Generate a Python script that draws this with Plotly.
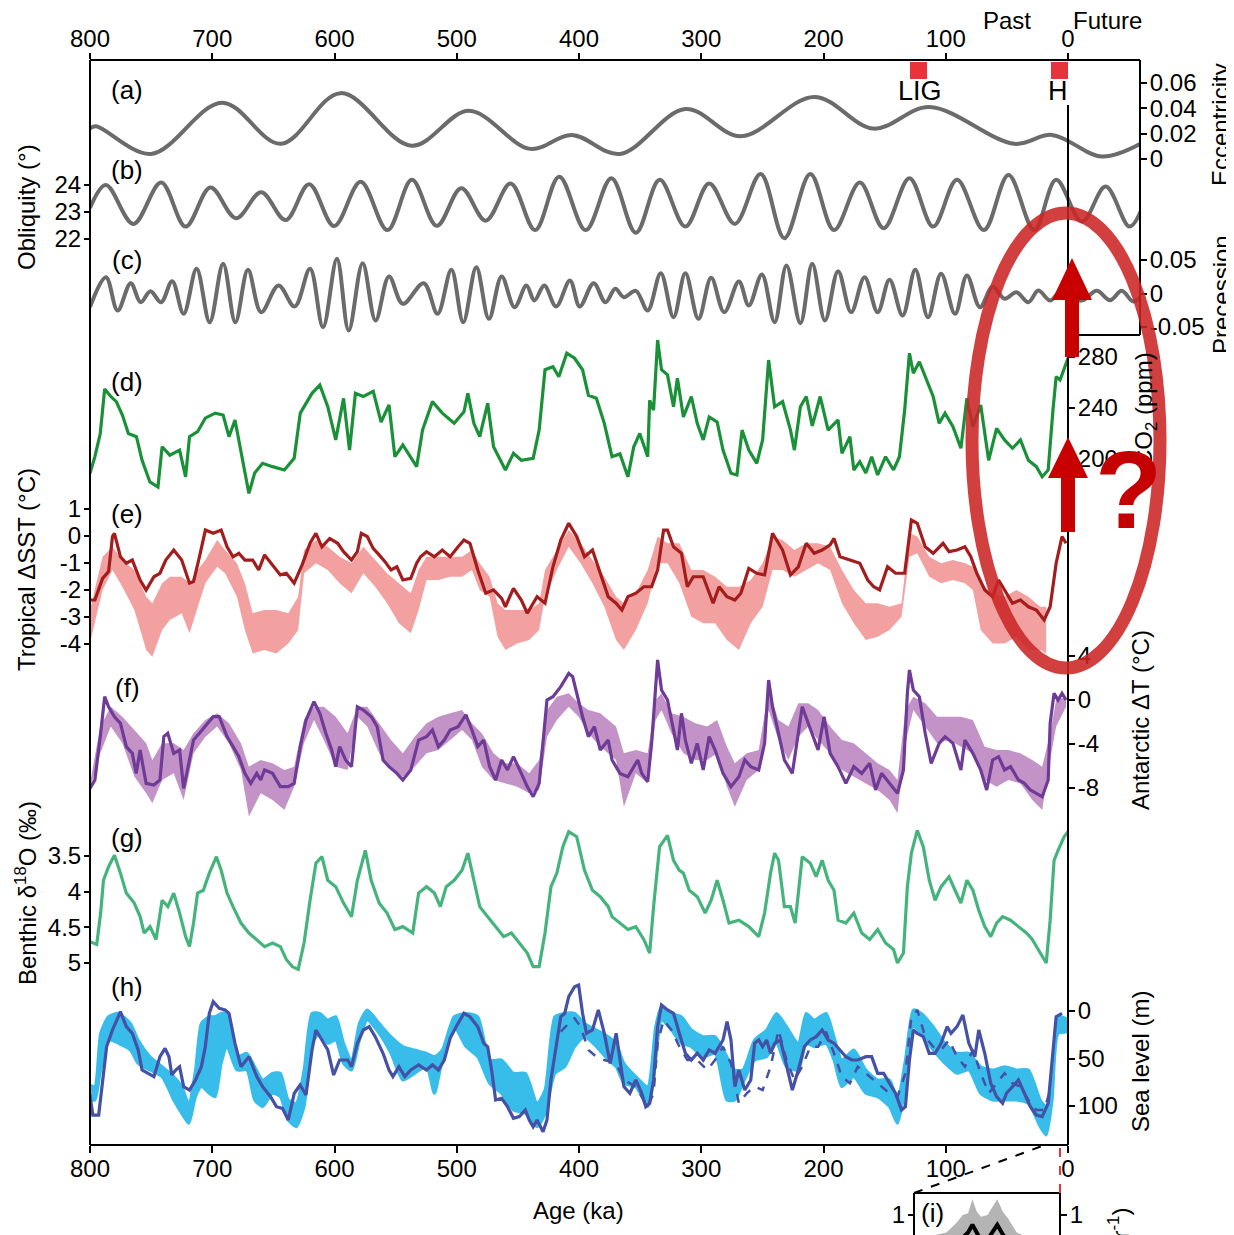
import plotly.graph_objects as go

# ---------------- data (age in ka) ----------------
ECC = [(800, 0.0242), (795, 0.0258), (750, 0.004), (692, 0.0445), (644, 0.012), (595, 0.052), (537, 0.0105),
       (490, 0.038), (440, 0.008), (406, 0.019), (366.5, 0.004), (313, 0.0395), (267.6, 0.018), (207.6, 0.049),
       (159, 0.024), (113.5, 0.041), (43.8, 0.012), (13, 0.019), (-27.6, 0.002), (-60, 0.0124)]

OBL = [(800, 23.15), (787, 24.00), (764.5, 22.56), (741.8, 24.09), (721.8, 22.46), (701.5, 23.91), (680.5, 22.77),
       (660, 23.73), (640, 22.70), (620.7, 24.03), (600.3, 22.48), (578.6, 24.12), (556.7, 22.33), (536.7, 24.19),
       (516.3, 22.49), (496.3, 23.88), (476.3, 22.68), (455.9, 24.06), (435.9, 22.33), (416.2, 24.31), (394.5, 22.33),
       (373.5, 24.25), (353.5, 22.23), (334, 24.19), (313, 22.46), (293.5, 24.06), (272.5, 22.56), (251.4, 24.41),
       (232, 22.03), (210.8, 24.41), (191.4, 22.33), (170.3, 24.09), (150.8, 22.40), (129.7, 24.25), (110.3, 22.46),
       (90.8, 24.19), (68.8, 22.33), (48.7, 24.37), (27.6, 22.33), (9.7, 24.19), (-11.4, 22.64), (-30.8, 23.94),
       (-50.3, 22.46), (-60, 23.07)]

PREC = [(800, -0.0204), (787, 0.0243), (777.4, -0.0254), (766.7, 0.0154), (758.6, -0.0130), (750.6, 0.0034),
        (741.8, -0.0130), (732.8, 0.0184), (723.4, -0.0303), (712.8, 0.0369), (702.1, -0.0428), (691.1, 0.0443),
        (681.1, -0.0428), (670.8, 0.0354), (660, -0.0279), (645.8, 0.0119), (632.6, -0.0194), (620, 0.0369),
        (609.4, -0.0503), (598, 0.0518), (588.4, -0.0552), (577, 0.0452), (566.4, -0.0403), (555.4, 0.0254),
        (544.1, -0.0154), (527, 0.0154), (515.7, -0.0303), (504.4, 0.0354), (494.7, -0.0428), (484, 0.0393),
        (473.7, -0.0378), (463.3, 0.0254), (452.7, -0.0204), (443, 0.0119), (436.5, -0.0104), (428.4, 0.0119),
        (418.7, -0.0194), (407.4, 0.0194), (399.4, -0.0194), (388, 0.0154), (378.4, -0.0130), (370.3, 0.0070),
        (363.3, -0.0055), (353.5, 0.004), (343.8, -0.0254), (333.1, 0.0303), (322.7, -0.0354), (313, 0.0303),
        (302.3, -0.0378), (291.9, 0.0234), (281.2, -0.0279), (269.2, 0.0179), (261.1, -0.0179), (250.4, 0.0284),
        (240, -0.0428), (230.3, 0.0418), (218.9, -0.0443), (209.2, 0.0443), (198.8, -0.0403), (188.1, 0.0333),
        (177.4, -0.0279), (166.4, 0.0243), (155.7, -0.0279), (146, 0.0204), (135.3, -0.0328), (124.9, 0.0354),
        (114.5, -0.0354), (103.8, 0.0294), (92.4, -0.0303), (82.7, 0.0269), (72, -0.0204), (61.6, 0.0104),
        (51.9, -0.0079), (42.2, 0.0019), (32.4, -0.0130), (24.3, 0.0045), (14.6, -0.0104), (6.5, 0.0019),
        (-4.9, -0.0094), (-12.3, -0.010), (-23.5, 0.004), (-34.4, -0.010), (-43.9, 0.004), (-53.4, -0.012),
        (-60, -0.004)]

CO2 = [(800, 188.8), (796, 201.8), (791.6, 220), (788, 255), (783, 249), (778.5, 245), (773.5, 234.5), (768.6, 220),
       (762, 217.5), (757.4, 199), (751, 182), (744.4, 178), (741, 209.6), (734.7, 203), (726.7, 207), (721.8, 186),
       (718.6, 217.5), (712, 221.4), (705.7, 232), (697.6, 236), (691.1, 234.5), (686.3, 217.5), (681.4, 230.6),
       (676.5, 207), (670, 173), (665.3, 189), (658.8, 196.6), (650.7, 194), (641, 191.4), (633, 200.6), (628, 236),
       (618.4, 251.5), (612, 258), (605.5, 241), (599, 215), (592.6, 247.6), (587.7, 207), (582.9, 251.5),
       (576.4, 249), (568.3, 253), (561.9, 229), (555.4, 242.4), (550.6, 201.8), (544.1, 211), (532.8, 194),
       (528, 222.7), (519.9, 245), (511.8, 236), (502.1, 228), (494.1, 237), (490.9, 251.5), (486, 228),
       (481.2, 217.5), (474.7, 243.7), (469.9, 209.6), (460.2, 191.4), (453.6, 204.4), (447.2, 199), (437.5, 200.6),
       (432.6, 222.7), (427.8, 270), (421.3, 272.4), (416.5, 264.5), (410, 283), (403.6, 279), (397.1, 270),
       (392.3, 250), (385.8, 247.6), (379.3, 228), (373, 201.8), (366.5, 204), (360, 186), (355.2, 209.6),
       (350.3, 220), (343.8, 201.8), (342.2, 246), (339, 238.4), (335.7, 293.3), (332.5, 270), (327.6, 266),
       (322.7, 241), (319.5, 263.3), (314.6, 233), (308.1, 249), (303.3, 228), (298.4, 215), (293.5, 233),
       (287, 229), (282.2, 207), (275.7, 188.8), (270.8, 187.5), (266.6, 222.7), (261.1, 207), (254.6, 196.6),
       (249.8, 215), (244.9, 277.6), (240, 241), (233.5, 245), (227, 222.7), (223.8, 207), (218.9, 241),
       (214.1, 249), (209.2, 226), (202.7, 249), (196.2, 222.7), (188.1, 230.6), (184.9, 204.4), (178.4, 217.5),
       (175.2, 191.4), (170.3, 197.9), (165.4, 189), (160.6, 201.8), (155.7, 187.5), (149.2, 201.8), (142.7, 191.4),
       (137.9, 201.8), (133.6, 238.4), (129.7, 283), (126.5, 267.2), (121.6, 276.3), (116.8, 264.5), (110.3, 249),
       (105.4, 228), (100.6, 236), (94.1, 225.4), (87.6, 208.4), (82.7, 247.6), (77.8, 225.4), (71.4, 242.4),
       (64.9, 199), (58.4, 224), (51.9, 215), (45.4, 208.4), (38.9, 215), (32.4, 199), (25.9, 194), (21.1, 186),
       (16.2, 191.4), (12.3, 238.4), (9.7, 264.5), (6.5, 262), (0, 279)]

SST = [(800, -2.37), (796, -2.37), (789.7, -1.57), (784.8, -1.32), (781.6, -0.02), (780, 0.10), (775.1, -0.77),
       (770.3, -1.01), (765.4, -0.89), (759, -1.63), (754.1, -2.00), (747.7, -1.51), (742.8, -1.38), (738, -0.89),
       (731.5, -0.52), (725, -0.89), (718.6, -1.75), (715.3, -1.69), (710.5, -0.77), (705.6, 0.22), (699.2, 0.10),
       (692.7, 0.22), (687.9, -0.40), (683, -0.77), (678.2, -0.64), (673.3, -0.89), (666.9, -0.89), (662, -1.26),
       (657.2, -0.70), (650.7, -1.07), (644.3, -1.44), (639.4, -1.38), (633, -1.75), (626.5, -1.07), (620, -0.27),
       (615.2, 0.10), (610.3, -0.40), (603.9, -0.09), (597.4, -0.27), (592.6, -0.58), (586.1, -0.89), (581.3, -0.58),
       (578.1, 0.10), (573.2, -0.02), (568.4, -0.46), (563.5, -0.70), (558.7, -0.95), (553.8, -1.26), (549, -1.14),
       (544.1, -1.63), (537.6, -1.57), (532.8, -1.01), (529.6, -0.77), (524.7, -0.58), (518.3, -0.77),
       (511.8, -0.52), (505.4, -0.77), (498.9, -0.40), (494.1, -0.15), (489.2, -0.27), (482.8, -1.26),
       (476.3, -2.12), (469.9, -2.00), (463.3, -2.31), (460.2, -2.62), (453.6, -1.94), (447.2, -2.37),
       (442.3, -2.86), (434.3, -2.25), (427.8, -2.49), (421.3, -1.14), (414.9, -0.15), (408.4, 0.47),
       (401.9, -0.02), (395.5, -0.77), (389, -0.52), (382.6, -1.38), (376.1, -2.25), (369.7, -2.49), (364.9, -2.74),
       (360, -2.25), (353.5, -2.12), (347, -1.88), (340.6, -1.88), (335.7, -1.26), (330.8, 0.22), (327.6, 0.22),
       (322.7, -0.40), (316.2, -0.64), (311.4, -1.88), (306.5, -1.51), (298.4, -1.51), (290.3, -2.49),
       (285.4, -1.88), (279, -2.25), (272.5, -2.37), (267.6, -2.12), (261.1, -1.20), (254.6, -1.38), (248.2, -1.44),
       (241.7, 0.10), (236.8, -0.27), (233.5, -0.52), (227, -1.44), (220.6, -1.14), (214.1, -0.27), (207.6, -0.64),
       (201.1, -0.52), (194.6, -0.33), (191.4, -0.09), (186.5, -0.77), (178.4, -0.89), (170.3, -1.01),
       (163.8, -1.63), (158.9, -1.88), (154.1, -2.00), (147.6, -1.14), (141.1, -1.38), (133.6, -1.38), (128.1, 0.59),
       (123.3, 0.47), (116.8, -0.40), (110.3, -0.64), (102.2, -0.27), (97.3, -0.58), (90.8, -0.52), (84.3, -0.40),
       (79.5, -0.77), (74.6, -1.38), (68.1, -2.00), (61.6, -2.25), (56.8, -1.63), (51.9, -2.00), (45.4, -2.49),
       (38.9, -2.37), (32.4, -2.62), (25.9, -2.74), (19.5, -3.11), (14.6, -2.62), (9.7, -1.01), (4.9, -0.02),
       (1.6, -0.27)]

SST_BAND_AGE = [800, 789.7, 781.6, 773.5, 763.7, 754, 749, 741, 734.7, 725, 718.6, 712, 705.7, 696, 689.5, 679.8,
                673.3, 666.9, 657.2, 647.5, 637.8, 629.7, 624.9, 615.2, 605.5, 595.8, 586.1, 576.4, 566.7, 557, 547.3,
                537.6, 531.2, 524.7, 515, 505.4, 495.7, 487.6, 481.2, 473.1, 466.6, 460.2, 450.5, 440.8, 432.6, 427.8,
                418.1, 408.4, 398.7, 389, 379.3, 369.7, 363.3, 353.5, 343.8, 335.7, 327.6, 317.9, 308.1, 298.4, 288.7,
                279, 269.2, 259.5, 249.8, 241.7, 233.5, 223.8, 214.1, 204.4, 194.6, 184.9, 175.2, 165.4, 155.7, 146,
                136.2, 129.7, 123.3, 113.5, 103.8, 94.1, 84.3, 77.8, 71.4, 61.6, 51.9, 42.2, 32.4, 22.7, 17.8]
SST_BAND_HI = [-2.74, -0.77, -0.40, -0.89, -1.26, -2.25, -2.49, -1.75, -1.51, -1.51,
               -1.75, -1.26, -0.89, -0.15, -0.52, -1.01, -1.75, -2.86, -2.74, -2.74,
               -2.86, -2.25, -0.52, -0.15, -0.40, -0.77, -1.01, -0.40, -0.89, -1.38,
               -1.75, -2.12, -1.26, -0.77, -0.77, -0.77, -0.77, -0.52, -1.01, -1.51,
               -2.49, -2.74, -2.74, -2.74, -2.49, -1.26, -0.52, 0.22, -0.27, -0.89,
               -1.51, -2.25, -2.49, -2.12, -1.26, -0.02, -0.27, -0.27, -1.26, -1.26,
               -1.51, -1.88, -1.88, -1.63, -1.01, -0.02, -0.15, -0.52, -0.27, -0.27,
               -0.40, -1.26, -2.00, -2.49, -2.49, -2.62, -2.49, 0.10, -0.02, -0.77,
               -1.01, -0.89, -1.01, -1.14, -1.75, -2.12, -2.25, -2.00, -2.25, -2.62,
               -2.62]
SST_BAND_LO = [-3.96, -2.00, -1.26, -1.88, -2.74, -4.22, -4.47, -3.48, -3.11, -2.86,
               -3.60, -2.62, -1.75, -1.14, -1.38, -2.25, -3.48, -4.35, -4.22, -4.35,
               -3.98, -3.48, -1.38, -1.01, -1.26, -1.75, -2.12, -1.38, -1.88, -2.49,
               -3.23, -3.60, -2.74, -1.63, -1.63, -1.51, -1.51, -1.26, -2.00, -2.25,
               -3.73, -4.22, -3.98, -3.85, -3.48, -2.25, -1.26, -0.40, -1.01, -1.75,
               -2.62, -3.85, -4.22, -3.48, -2.49, -1.01, -1.01, -1.75, -2.99, -3.23,
               -3.23, -3.85, -4.22, -3.23, -2.62, -1.26, -1.26, -1.51, -1.26, -1.01,
               -1.26, -2.49, -3.23, -3.85, -3.73, -3.48, -2.99, -0.77, -0.64, -1.51,
               -1.75, -1.63, -1.75, -2.00, -3.48, -3.98, -3.98, -3.73, -4.22, -4.22,
               -4.35]

ANT = [(800, -8.03), (796, -7.27), (791.6, -3.33), (788, 0.30), (784.8, -0.61), (780, -1.52), (775.1, -2.12),
       (770.3, -4.24), (765.4, -4.85), (762.2, -6.67), (759, -4.55), (754.1, -7.58), (747.7, -7.73), (742.8, -7.27),
       (739.6, -3.33), (736.4, -3.03), (731.5, -4.85), (726.7, -4.55), (723.4, -8.03), (718.6, -5.45), (715.3, -3.64),
       (710.5, -3.03), (705.6, -2.42), (699.2, -1.52), (694.3, -1.52), (687.9, -3.33), (683, -4.24), (678.2, -5.15),
       (673.3, -6.67), (668.5, -7.58), (663.6, -6.67), (660.4, -7.27), (657.2, -6.36), (650.7, -6.67), (644.3, -7.88),
       (637.8, -7.88), (633, -7.58), (628, -4.24), (623.3, -1.82), (616.8, -0.15), (612, -1.21), (607.1, -3.03),
       (602.3, -4.55), (599, -6.06), (595.8, -4.24), (590.9, -5.45), (586.1, -6.06), (581.3, -0.61), (576.4, -0.91),
       (569.9, -1.52), (565.1, -2.42), (560.3, -5.45), (555.4, -6.06), (549, -6.67), (544.1, -7.27), (537.6, -6.36),
       (531.2, -3.64), (524.7, -3.33), (519.9, -2.73), (515, -4.24), (510.2, -3.64), (505.4, -2.73), (498.9, -2.42),
       (492.5, -1.36), (487.6, -2.73), (482.8, -4.24), (477.9, -3.64), (473.1, -6.06), (468.2, -7.27), (463.3, -5.45),
       (458.5, -6.36), (453.6, -5.15), (447.2, -6.67), (442.3, -7.88), (437.5, -8.79), (432.6, -7.58), (426.2, 0.0),
       (421.3, 0.30), (414.9, 1.21), (408.4, 2.42), (405.2, 2.12), (401.9, 0.61), (397.1, -1.52), (392.3, -3.33),
       (387.4, -2.42), (382.6, -4.55), (376.1, -3.64), (373, -5.45), (366.5, -6.67), (360, -6.97), (355.2, -6.06),
       (351.9, -5.45), (348.7, -6.67), (343.8, -7.42), (340.6, -3.94), (337.3, 0.61), (335.7, 3.64), (332.5, 0.91),
       (327.6, 0.0), (322.7, -2.73), (319.5, -4.55), (316.2, -1.21), (313, -3.64), (308.1, -5.76), (303.3, -3.94),
       (298.4, -6.36), (293.5, -3.33), (288.7, -4.55), (282.2, -6.67), (275.7, -7.88), (269.2, -6.97), (264.4, -5.45),
       (259.5, -6.06), (253, -6.36), (248.2, -3.94), (244.9, 1.82), (241.7, -0.61), (236.8, -3.03), (232, -5.45),
       (225.5, -6.67), (220.6, -2.73), (217.4, -0.61), (212.5, -2.12), (207.6, -3.64), (204.4, -4.55), (199.5, -1.52),
       (194.6, -4.85), (188.1, -6.06), (181.7, -7.58), (175.2, -6.06), (168.7, -6.67), (162.2, -5.76), (157.4, -8.18),
       (152.5, -6.67), (146, -7.58), (139.5, -8.48), (134.6, -6.36), (131.4, 0.61), (129.7, 2.73), (126.5, 0.91),
       (121.6, 0.30), (116.8, -3.03), (111.9, -5.76), (105.4, -3.94), (100.6, -3.33), (94.1, -3.94), (87.6, -6.36),
       (84.3, -3.64), (77.8, -4.85), (71.4, -6.36), (66.5, -8.18), (61.6, -5.45), (56.8, -5.15), (51.9, -6.36),
       (47, -6.06), (40.5, -7.27), (35.7, -7.58), (30.8, -8.18), (25.9, -8.48), (21.1, -8.79), (16.2, -7.27),
       (14.6, -2.12), (11.4, 0.61), (8.1, 0.0), (4.9, 0.61), (1.6, 0.0)]

# (age, upper, lower)
ANT_BAND = [(800, -7.58, -8.03), (791.6, -2.42, -4.85), (783, -0.61, -2.42), (773.5, -1.52, -3.94),
            (763.7, -2.73, -6.97), (754, -3.94, -8.48), (749, -5.45, -9.39), (741, -3.94, -7.27), (731.5, -3.94, -6.67),
            (723.4, -4.55, -9.09), (715.3, -3.03, -4.85), (705.6, -1.82, -3.33), (696, -1.21, -2.42),
            (686.3, -2.12, -3.94), (676.5, -3.94, -6.36), (670, -6.06, -10.6), (660.4, -5.45, -8.48),
            (650.7, -5.76, -9.09), (641, -6.36, -10.0), (633, -6.06, -7.88), (625, -1.82, -3.94), (616.8, -0.61, -1.82),
            (608.7, -0.61, -3.64), (599, -1.52, -6.06), (589.3, -3.03, -6.36), (581.3, -0.61, -1.52),
            (573.2, -0.61, -2.42), (563.5, -2.12, -4.85), (553.8, -3.64, -6.36), (544.1, -4.85, -6.97),
            (534.4, -3.33, -6.06), (524.7, -2.12, -4.85), (515, -1.52, -4.55), (505.4, -1.21, -3.64),
            (495.7, -0.91, -2.73), (487.6, -2.12, -3.64), (479.5, -3.03, -6.06), (469.9, -4.85, -7.27),
            (460.2, -5.76, -7.58), (450.5, -5.76, -7.88), (440.8, -6.67, -8.48), (432.6, -5.45, -8.18),
            (426.2, -0.91, -3.33), (418.1, 0.30, -1.82), (408.4, 0.61, -0.61), (400.3, -0.30, -1.52),
            (392.3, -0.91, -3.03), (382.6, -1.21, -4.24), (369.7, -2.42, -5.45), (363.3, -4.85, -9.70),
            (353.5, -4.55, -6.67), (343.8, -4.85, -7.58), (337.3, 0.0, -1.82), (332.5, 0.61, -0.91),
            (324.4, -1.21, -3.03), (314.6, -1.52, -4.85), (304.9, -2.12, -5.45), (295.2, -2.42, -5.45),
            (287, -1.82, -4.85), (279, -4.24, -7.88), (272.5, -5.76, -9.70), (262.8, -4.85, -7.27), (253, -4.55, -6.36),
            (244.9, 0.91, -0.91), (236.8, -1.82, -3.64), (228.7, -2.42, -5.45), (220.6, -0.30, -3.33),
            (212.5, -0.30, -2.42), (204.4, -0.91, -3.64), (194.6, -2.42, -4.85), (184.9, -3.64, -6.36),
            (175.2, -3.94, -6.97), (165.4, -4.85, -7.58), (155.7, -5.76, -8.18), (146, -6.36, -9.09),
            (139.5, -7.27, -10.3), (133, -0.91, -3.94), (126.5, 0.30, -0.91), (116.8, -0.30, -2.42),
            (107.1, -1.52, -3.94), (97.3, -1.52, -3.64), (87.6, -1.52, -4.24), (77.8, -1.82, -4.85),
            (68.1, -4.24, -7.27), (58.4, -4.55, -7.88), (48.7, -4.55, -7.27), (38.9, -4.85, -7.58),
            (29.2, -5.45, -9.09), (21.1, -6.06, -10.0), (14.6, -3.03, -5.45), (9.7, 0.0, -2.42), (1.6, 0.30, -0.61)]

D18O = [(800, 4.70), (794.5, 4.74), (791.3, 4.30), (789, 3.84), (784.8, 3.65), (780, 3.49), (775.1, 3.74),
        (770.3, 4.02), (763.8, 4.16), (759, 4.35), (755.7, 4.58), (750.9, 4.49), (746, 4.67), (741, 4.12),
        (736.3, 4.21), (731.5, 4.02), (726.7, 4.30), (721.8, 4.63), (718.6, 4.77), (715.3, 4.44), (712, 4.02),
        (707.3, 3.98), (702.4, 3.74), (696.6, 3.51), (692.7, 3.70), (687.9, 4.02), (683, 4.21), (676.5, 4.44),
        (670, 4.58), (663.6, 4.67), (657.2, 4.77), (650.7, 4.72), (644.3, 4.77), (639.4, 4.95), (634.6, 5.05),
        (629.7, 5.09), (624.9, 4.72), (620, 4.12), (615.2, 3.60), (610.3, 3.51), (605.5, 3.84), (599, 3.93),
        (592.6, 4.16), (586.1, 4.35), (581.3, 3.84), (574.8, 3.42), (570, 3.84), (563.5, 4.16), (557, 4.30),
        (550.6, 4.53), (544.1, 4.49), (536, 4.58), (531.2, 4.02), (524.7, 3.93), (518.3, 4.02), (513.4, 4.21),
        (508.6, 3.93), (502.1, 3.84), (495.7, 3.70), (490.9, 3.46), (486, 3.84), (481.2, 4.21), (474.7, 4.35),
        (468.2, 4.49), (461.7, 4.63), (455.3, 4.58), (448.8, 4.72), (442.3, 4.86), (437.5, 5.05), (432.6, 5.05),
        (427.8, 4.58), (422.9, 3.93), (418.1, 3.74), (413.2, 3.37), (408.4, 3.16), (401.9, 3.23), (395.5, 3.70),
        (389, 3.98), (382.6, 4.07), (376.1, 4.21), (373, 4.35), (366.5, 4.44), (360, 4.53), (353.5, 4.49),
        (347, 4.67), (342.2, 4.86), (339, 4.21), (334.1, 3.37), (327.6, 3.21), (322.7, 3.56), (317.9, 3.70),
        (314.6, 3.74), (309.8, 3.98), (303.3, 4.07), (296.8, 4.30), (291.9, 4.12), (287, 3.84), (282.2, 4.12),
        (277.3, 4.44), (269.2, 4.40), (261.1, 4.49), (253, 4.63), (248.2, 4.30), (243.3, 3.74), (240, 3.46),
        (236.8, 3.56), (232, 4.21), (227.1, 4.21), (223.2, 4.44), (217.4, 3.51), (210.8, 3.60), (206, 3.79),
        (201.1, 3.56), (196.2, 3.84), (191.4, 3.98), (188.1, 4.40), (181.7, 4.44), (175.2, 4.30), (168.7, 4.58),
        (162.2, 4.67), (155.7, 4.53), (149.2, 4.72), (142.7, 4.81), (139.5, 5.00), (134.6, 4.86), (131.4, 3.93),
        (128.1, 3.46), (123.3, 3.14), (118.4, 3.37), (113.5, 3.84), (108.7, 4.12), (103.8, 3.93), (97.3, 3.79),
        (92.4, 3.98), (87.6, 4.16), (82.7, 3.84), (77.8, 3.98), (73, 4.26), (68.1, 4.49), (63.2, 4.63), (58.4, 4.44),
        (53.5, 4.35), (47, 4.40), (40.5, 4.49), (34, 4.58), (29.2, 4.67), (24.3, 4.81), (21.1, 4.91), (17.8, 5.00),
        (14.6, 4.40), (11.4, 3.56), (8.1, 3.42), (3.2, 3.23), (0, 3.16)]

SL = [(800, 88.4), (797.7, 109.5), (792.9, 109.5), (789.7, 76.1), (786.4, 37.6), (781.6, 20), (776.7, 6.0),
      (775.1, 0.7), (770.3, 16.5), (765.4, 23.5), (760.6, 41), (757.4, 62.1), (752.5, 65.6), (747.7, 69.1),
      (742.8, 48.1), (738.6, 39.3), (735.4, 48.1), (733.1, 67.4), (729.9, 62.1), (726.7, 58.6), (723.4, 79.6),
      (718.6, 83.2), (713.7, 72.6), (708.9, 58.6), (705.7, 37.6), (702.4, 2.4), (699.2, -9.8), (694.3, -2.8),
      (689.5, -1.1), (686.3, 2.4), (681.4, 34), (676.5, 58.6), (670, 48.1), (663.6, 69.1), (658.8, 79.6),
      (652.3, 90.2), (647.5, 100.7), (642.6, 102.5), (637.8, 114.7), (632.9, 86.6), (628.1, 77.9), (623.3, 88.4),
      (618.4, 41), (615.2, 20), (610.3, 30.5), (605.5, 41), (600.7, 67.4), (595.8, 51.6), (589.3, 51.6),
      (586.1, 58.6), (581.3, 34), (576.4, 20), (571.6, 16.5), (566.7, 27), (560.3, 44.5), (555.4, 62.1),
      (552.2, 69.1), (547.3, 58.6), (542.5, 69.1), (537.6, 62.1), (531.2, 56.8), (524.7, 62.1), (519.9, 56.8),
      (515, 62.1), (510.2, 51.6), (505.4, 28.8), (500.5, 16.5), (494.1, 2.4), (489.2, 6.0), (482.8, 16.5),
      (477.9, 34), (474.7, 37.6), (471.5, 62.1), (468.2, 93.7), (463.3, 91.9), (458.5, 100.7), (453.6, 113),
      (448.8, 111.2), (443.9, 104.2), (440.7, 114.7), (437.5, 121.8), (434.3, 114.7), (429.4, 127), (426.2, 114.7),
      (423, 72.6), (418.1, 34), (414.9, 6.0), (411.7, 2.4), (408.4, -15.1), (403.6, -25.6), (400.3, -27.4),
      (397.1, 2.4), (393.9, 23.5), (389, 20), (384.2, -1.1), (379.3, 23.5), (374.5, 55.1), (369.6, 23.5),
      (366.5, 51.6), (363.3, 79.6), (358.4, 86.6), (353.5, 72.6), (348.7, 86.6), (345.4, 100.7), (342.2, 97.2),
      (339, 72.6), (335.7, 16.5), (332.5, -6.3), (327.6, -1.1), (322.7, 2.4), (317.9, 23.5), (313, 44.5),
      (308.1, 51.6), (303.3, 44.5), (298.4, 51.6), (293.5, 41), (288.7, 44.5), (282.2, 30.5), (278.9, 11.2),
      (275.7, 30.5), (272.5, 79.6), (269.2, 62.1), (264.4, 83.2), (259.5, 72.6), (256.3, 34), (253, 30.5),
      (249.8, 37.6), (246.5, 30.5), (243.3, 44.5), (240, 34), (235.2, 30.5), (230.3, 58.6), (225.5, 83.2),
      (220.6, 62.1), (215.7, 37.6), (210.8, 30.5), (206, 27), (201.1, 20), (196.2, 30.5), (191.4, 34),
      (186.5, 41), (181.7, 48.1), (176.8, 51.6), (171.9, 51.6), (165.4, 48.1), (160.6, 48.1), (155.7, 65.6),
      (150.8, 65.6), (146, 76.1), (141.1, 86.6), (136.2, 104.2), (133, 100.7), (129.7, 51.6), (126.5, 20),
      (123.3, 23.5), (118.4, 27), (113.5, 44.5), (108.7, 44.5), (103.8, 34), (98.9, 16.5), (95.7, 23.5),
      (90.8, 16.5), (86, 4.2), (81.1, 34), (76.2, 48.1), (73, 20), (68.1, 44.5), (63.2, 76.1), (58.4, 90.2),
      (53.5, 97.2), (50.3, 86.6), (45.4, 79.6), (40.5, 72.6), (35.7, 86.6), (30.8, 100.7), (25.9, 109.5),
      (21.1, 111.2), (16.2, 97.2), (13, 51.6), (9.7, 6.0), (4.9, 2.4)]

SL_DASHED = [(414.9, 21.8), (408.4, 13), (403.6, 7.7), (398.7, 16.5), (392.3, 41), (385.8, 48.1), (379.3, 51.6),
             (369.6, 55.1), (363.3, 72.6), (353.5, 79.6), (343.8, 100.7), (339, 86.6), (335.7, 34), (330.8, 9.5),
             (324.4, 20), (317.9, 37.6), (311.4, 51.6), (303.3, 51.6), (295.2, 62.1), (288.7, 51.6), (282.2, 37.6),
             (275.7, 55.1), (269.2, 97.2), (262.8, 86.6), (256.3, 79.6), (249.8, 83.2), (243.3, 58.6), (236.8, 20),
             (230.3, 51.6), (223.8, 72.6), (217.4, 58.6), (210.8, 37.6), (204.4, 37.6), (197.9, 21.8), (191.4, 44.5),
             (185, 69.1), (178.4, 76.1), (172, 58.6), (165.4, 65.6), (159, 72.6), (152.4, 79.6), (146, 86.6),
             (139.5, 90.2), (133, 65.6), (128.1, 6.0), (123.3, -1.1), (116.8, 27), (110.3, 37.6), (103.8, 41),
             (97.3, 30.5), (90.8, 48.1), (84.3, 58.6), (77.8, 41), (71.4, 65.6), (64.9, 86.6), (58.4, 76.1),
             (51.9, 65.6), (45.4, 76.1), (38.9, 79.6), (32.4, 93.7), (25.9, 104.2), (19.5, 104.2), (14.6, 83.2)]

# (age, shallow edge, deep edge)
SL_BAND = [(800, 77.9, 93.7), (796, 79.6, 93.7), (791.3, 23.5, 62.1), (784.8, 6.0, 30.5), (776.7, 2.5, 34.0),
           (767, 13.0, 41.1), (760.6, 30.5, 55.1), (750.9, 48.1, 62.1), (741, 58.6, 69.1), (731.5, 69.1, 93.7),
           (725, 79.6, 107.7), (719.2, 97.2, 118.2), (713.7, 62.1, 90.2), (708.9, 13.0, 79.6), (702.4, 6.0, 86.7),
           (697.6, 6.0, 90.2), (692.7, 2.5, 55.1), (687.9, 2.5, 37.5), (679.8, 48.1, 62.1), (671.7, 44.6, 62.1),
           (665.3, 58.6, 93.7), (658.8, 72.6, 100.7), (650.7, 65.6, 86.7), (644.3, 65.6, 90.2), (637.8, 93.7, 114.7),
           (631.3, 97.2, 121.8), (624.9, 62.1, 100.7), (618.4, 2.5, 34.0), (612, 2.5, 23.5), (605.5, 9.5, 34.0),
           (599, 6.0, 30.5), (592.6, 34.0, 55.1), (586.1, 51.6, 62.1), (579.6, 13.0, 30.5), (573.2, -1.1, 9.5),
           (563.5, 13.0, 23.5), (553.8, 27.0, 44.6), (544.1, 37.5, 72.6), (534.4, 41.1, 65.6), (524.7, 44.6, 58.6),
           (518.3, 48.1, 86.7), (511.8, 41.1, 51.6), (502.1, 6.0, 16.5), (492.4, 2.5, 37.5), (482.8, 6.0, 48.1),
           (473.1, 51.6, 76.1), (463.3, 51.6, 86.7), (453.6, 65.6, 104.2), (443.9, 65.6, 107.7), (434.3, 97.2, 121.8),
           (427.8, 83.2, 107.7), (419.7, 6.0, 65.6), (411.7, 2.5, 58.6), (403.6, 2.5, 37.5), (395.5, 13.0, 27.0),
           (385.8, 20.0, 37.5), (376.1, 27.0, 51.6), (369.6, 34.0, 58.6), (363.3, 55.1, 76.1), (353.5, 69.1, 79.6),
           (343.8, 79.6, 100.7), (337.3, 16.5, 51.6), (332.5, -4.6, 9.5), (324.4, 2.5, 20.0), (316.2, 6.0, 34.0),
           (308.1, 20.0, 37.5), (298.4, 27.0, 48.1), (288.7, 27.0, 44.6), (279, 48.1, 93.7), (272.5, 62.1, 93.7),
           (266, 62.1, 76.1), (256.3, 30.5, 51.6), (246.5, 20.0, 48.1), (238.4, 2.5, 34.0), (230.3, 16.5, 58.6),
           (220.6, 34.0, 62.1), (214.1, 2.5, 34.0), (207.6, 9.5, 37.5), (197.9, 2.5, 34.0), (191.4, 27.0, 51.6),
           (185, 51.6, 79.6), (175.2, 41.1, 69.1), (165.4, 62.1, 86.7), (155.7, 72.6, 90.2), (146, 72.6, 100.7),
           (139.5, 93.7, 118.2), (133, 51.6, 79.6), (126.5, -1.1, 16.5), (120, 2.5, 23.5), (110.3, 16.5, 41.1),
           (100.6, 34.0, 55.1), (90.8, 44.6, 65.6), (81.1, 44.6, 62.1), (71.4, 58.6, 86.7), (61.6, 62.1, 93.7),
           (51.9, 58.6, 93.7), (42.2, 62.1, 93.7), (32.4, 62.1, 97.2), (22.7, 93.7, 121.8), (17.8, 100.7, 130.5),
           (13, 76.1, 93.7), (8.1, 6.0, 23.5), (0, 9.5, 21.8)]

# inset (i): deglacial rate, (age, central, upper)
INSET = [(20, 0.10, 0.30), (17, 0.20, 0.50), (16, 0.30, 0.80), (15.5, 0.35, 1.00), (15, 0.50, 1.05),
         (14.6, 0.72, 1.45), (14.2, 0.50, 1.10), (13.8, 0.25, 0.95), (13.2, 0.30, 1.00), (12.8, 0.50, 1.20),
         (12.3, 0.72, 1.45), (11.8, 0.45, 1.10), (11.3, 0.25, 0.90), (10.5, 0.20, 0.50), (9, 0.10, 0.30),
         (7, 0.05, 0.10)]

AGE_TICKS = [800, 700, 600, 500, 400, 300, 200, 100, 0]

# ---------------- layout helpers (screen-pixel geometry) ----------------
W, H = 1234, 1235
OFF = 8                          # page body margin
X0, XZ, XF = 90, 1068, 1140      # screen columns of 800 ka, 0 ka, right edge of orbital box
YT, YB = 60, 1145                # top / bottom frame rows
KA_PX = (XZ - X0) / 800.0
FONT = "Liberation Sans, Arial, sans-serif"


def fx(p):
    return (p - OFF) / W


def fy(p):
    return 1 - (p - OFF) / H


def unzip(pts):
    return [p[0] for p in pts], [p[1] for p in pts]


def yax(v0, p0, v1, p1, side, xpos, tickvals, ticktext, ptop=YT, pbot=YB, **kw):
    s = (v1 - v0) / (p1 - p0)
    d = dict(domain=[fy(pbot), fy(ptop)], range=[v0 + (pbot - p0) * s, v0 + (ptop - p0) * s],
             anchor='free', position=fx(xpos), side=side, tickvals=tickvals, ticktext=ticktext,
             ticks='outside', ticklen=6, tickwidth=2, tickcolor='black', showline=False, showgrid=False,
             zeroline=False, automargin=False, ticklabelstandoff=-2,
             tickfont=dict(size=24, color='black', family=FONT), fixedrange=True)
    d.update(kw)
    return d


fig = go.Figure()

ORB = '#6b6b6b'
x, y = unzip(ECC)
fig.add_trace(go.Scatter(x=x, y=y, mode='lines', line=dict(color=ORB, width=4, shape='spline', smoothing=1.0),
                         xaxis='x2', yaxis='y'))
x, y = unzip(OBL)
fig.add_trace(go.Scatter(x=x, y=y, mode='lines', line=dict(color=ORB, width=4, shape='spline', smoothing=1.0),
                         xaxis='x2', yaxis='y2'))
x, y = unzip(PREC)
fig.add_trace(go.Scatter(x=x, y=y, mode='lines', line=dict(color=ORB, width=4, shape='spline', smoothing=1.0),
                         xaxis='x2', yaxis='y3'))

x, y = unzip(CO2)
fig.add_trace(go.Scatter(x=x, y=y, mode='lines', line=dict(color='#1a9138', width=3.2), xaxis='x', yaxis='y4'))

fig.add_trace(go.Scatter(x=SST_BAND_AGE + SST_BAND_AGE[::-1], y=SST_BAND_HI + SST_BAND_LO[::-1], mode='lines',
                         fill='toself', fillcolor='#f3a0a0', line=dict(width=0), xaxis='x', yaxis='y5'))
x, y = unzip(SST)
fig.add_trace(go.Scatter(x=x, y=y, mode='lines', line=dict(color='#a31d1d', width=3.2), xaxis='x', yaxis='y5'))

ba = [b[0] for b in ANT_BAND]
bh = [b[1] for b in ANT_BAND]
bl = [b[2] for b in ANT_BAND]
fig.add_trace(go.Scatter(x=ba + ba[::-1], y=bh + bl[::-1], mode='lines', fill='toself', fillcolor='#c393c8',
                         line=dict(width=0), xaxis='x', yaxis='y6'))
x, y = unzip(ANT)
fig.add_trace(go.Scatter(x=x, y=y, mode='lines', line=dict(color='#6e3c96', width=3.2), xaxis='x', yaxis='y6'))

x, y = unzip(D18O)
fig.add_trace(go.Scatter(x=x, y=y, mode='lines', line=dict(color='#45b47c', width=3.2), xaxis='x', yaxis='y7'))

ba = [b[0] for b in SL_BAND]
bh = [b[1] for b in SL_BAND]
bl = [b[2] for b in SL_BAND]
fig.add_trace(go.Scatter(x=ba + ba[::-1], y=bh + bl[::-1], mode='lines', fill='toself', fillcolor='#38bdeb',
                         line=dict(color='#38bdeb', width=3, shape='spline', smoothing=0.6), xaxis='x', yaxis='y8'))
x, y = unzip(SL_DASHED)
fig.add_trace(go.Scatter(x=x, y=y, mode='lines', line=dict(color='#4551a5', width=2.5, dash='dash'),
                         xaxis='x', yaxis='y8'))
x, y = unzip(SL)
fig.add_trace(go.Scatter(x=x, y=y, mode='lines', line=dict(color='#4551a5', width=3.2), xaxis='x', yaxis='y8'))

ia = [p[0] for p in INSET]
ic = [p[1] for p in INSET]
ih = [p[2] for p in INSET]
fig.add_trace(go.Scatter(x=ia + ia[::-1], y=ih + [0] * len(ia), mode='lines', fill='toself', fillcolor='#b4b4b4',
                         line=dict(width=0), xaxis='x3', yaxis='y9'))
fig.add_trace(go.Scatter(x=ia, y=ic, mode='lines', line=dict(color='black', width=4), xaxis='x3', yaxis='y9'))
fig.add_trace(go.Scatter(x=[None], y=[None], mode='lines', xaxis='x3', yaxis='y10'))

axis_common = dict(showgrid=False, zeroline=False, ticks='outside', tickwidth=2, tickcolor='black',
                   showline=True, linecolor='black', linewidth=2, fixedrange=True, automargin=False,
                   tickfont=dict(size=24, color='black', family=FONT))

layout = dict(
    width=W, height=H, margin=dict(l=0, r=0, t=0, b=0, pad=0, autoexpand=False), showlegend=False,
    paper_bgcolor='white', plot_bgcolor='rgba(0,0,0,0)',
    font=dict(family=FONT, color='black'),
    xaxis=dict(domain=[fx(X0), fx(XZ)], range=[800, 0], anchor='free', position=fy(YB),
               tickvals=AGE_TICKS, ticklen=7, ticklabelstandoff=-5, **axis_common),
    xaxis2=dict(domain=[fx(X0), fx(XF)], range=[800, 800 - (XF - X0) / KA_PX], anchor='free', position=fy(YT),
                side='top', tickvals=AGE_TICKS, ticklen=6, ticklabelstandoff=-4, **axis_common),
    xaxis3=dict(domain=[fx(914), fx(1060)], range=[20, 6.5], anchor='free', position=0, visible=False,
                fixedrange=True, automargin=False),
    yaxis=yax(0, 159, 0.06, 83, 'right', XF, [0, 0.02, 0.04, 0.06], ['0', '0.02', '0.04', '0.06']),
    yaxis2=yax(24, 185, 22, 239, 'left', X0, [22, 23, 24], ['22', '23', '24']),
    yaxis3=yax(0.05, 260, -0.05, 327, 'right', XF, [-0.05, 0, 0.05], ['-0.05', '0', '0.05']),
    yaxis4=yax(280, 357, 200, 459, 'right', XZ, [200, 240, 280], ['200', '240', '280']),
    yaxis5=yax(1, 509, -4, 644, 'left', X0, [1, 0, -1, -2, -3, -4], ['1', '0', '-1', '-2', '-3', '-4']),
    yaxis6=yax(4, 656, -8, 788, 'right', XZ, [4, 0, -4, -8], ['4', '0', '-4', '-8']),
    yaxis7=yax(3.5, 856, 5, 963, 'left', X0, [3.5, 4, 4.5, 5], ['3.5', '4', '4.5', '5']),
    yaxis8=yax(0, 1011, 100, 1106, 'right', XZ, [0, 50, 100], ['0', '50', '100']),
    yaxis9=yax(1, 1215, 0, 1250, 'left', 914, [1], ['1'], ptop=1193, pbot=H + OFF),
    yaxis10=yax(1, 1215, 0, 1250, 'right', 1060, [1], ['1'], ptop=1193, pbot=H + OFF),
)
fig.update_layout(**layout)


def seg(xa, ya, xb, yb, color='black', width=2, dash=None):
    ln = dict(color=color, width=width)
    if dash:
        ln['dash'] = dash
    return dict(type='line', xref='paper', yref='paper', x0=fx(xa), y0=fy(ya), x1=fx(xb), y1=fy(yb),
                line=ln, layer='above')


def poly(pts, color):
    d = 'M ' + ' L '.join('%.5f,%.5f' % (fx(a), fy(b)) for a, b in pts) + ' Z'
    return dict(type='path', xref='paper', yref='paper', path=d, fillcolor=color, line=dict(width=0),
                layer='above')


shapes = [
    seg(X0, YT, X0, YB),
    seg(XZ, 105, XZ, YB),
    seg(XF, YT, XF, 335),
    seg(XZ, 335, XF, 335),
    dict(type='rect', xref='paper', yref='paper', x0=fx(910), x1=fx(927), y0=fy(79), y1=fy(62),
         fillcolor='#e8333b', line=dict(width=0), layer='above'),
    dict(type='rect', xref='paper', yref='paper', x0=fx(1051), x1=fx(1068), y0=fy(79), y1=fy(62),
         fillcolor='#e8333b', line=dict(width=0), layer='above'),
    seg(914, 1193, 1060, 1193), seg(914, 1193, 914, H + 2), seg(1060, 1193, 1060, H + 2),
    seg(914, 1193, 1045, 1145, dash='dash'),
    seg(1060, 1148, 1060, 1193, color='#e8333b', dash='dash'),
    dict(type='circle', xref='paper', yref='paper', x0=fx(972), x1=fx(1160), y0=fy(668), y1=fy(213),
         line=dict(color='rgba(204,36,36,0.88)', width=13), layer='above'),
    poly([(1065, 357), (1065, 300), (1052, 300), (1072, 258), (1092, 300), (1079, 300), (1079, 357)], '#c80000'),
    poly([(1061, 532), (1061, 478), (1048, 478), (1068, 437), (1088, 478), (1075, 478), (1075, 532)], '#c80000'),
]
fig.update_layout(shapes=shapes)


def ann(text, xp, yp, size=24, angle=0, color='black', xa='center', ya='middle'):
    return dict(text=text, x=fx(xp), y=fy(yp), xref='paper', yref='paper', showarrow=False,
                font=dict(size=size, color=color, family=FONT), textangle=angle, xanchor=xa, yanchor=ya)


annotations = [
    ann('(a)', 127, 90, 26), ann('(b)', 127, 170, 26), ann('(c)', 127, 260, 26), ann('(d)', 127, 382, 26),
    ann('(e)', 127, 514, 26), ann('(f)', 127, 688, 26), ann('(g)', 127, 838, 26), ann('(h)', 127, 987, 26),
    ann('(i)', 932, 1213, 26),
    ann('Past', 1007, 20, 24), ann('Future', 1107, 20, 24),
    ann('LIG', 920, 91, 27), ann('H', 1058, 91, 27),
    ann('Obliquity (°)', 26, 207, 24, -90),
    ann('Tropical ΔSST (°C)', 26, 570, 24, -90),
    ann('Benthic δ<sup>18</sup>O (‰)', 26, 893, 24, -90),
    ann('Eccentricity', 1221, 125, 24, -90),
    ann('Precession', 1221, 295, 24, -90),
    ann('CO<sub>2</sub> (ppm)', 1146, 410, 24, -90),
    ann('Antarctic ΔT (°C)', 1140, 720, 24, -90),
    ann('Sea level (m)', 1140, 1062, 24, -90),
    ann('Age (ka)', 578, 1210, 24),
    ann('Rate (m kyr<sup>-1</sup>)', 1118, 1206, 24, -90, ya='top'),
    ann('<b>?</b>', 1128, 490, 110, 0, '#c40000'),
]
fig.update_layout(annotations=annotations)

fig.write_html("out.html")
